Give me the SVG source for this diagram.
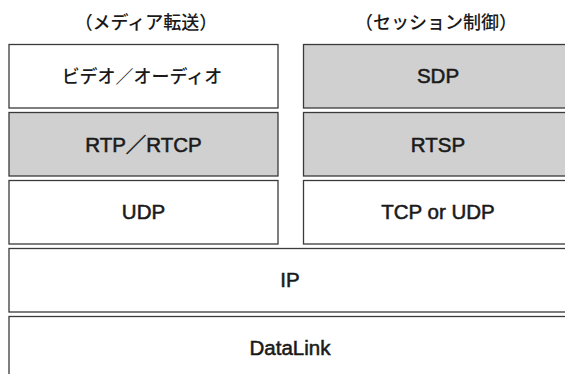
<svg xmlns="http://www.w3.org/2000/svg" width="565" height="374" viewBox="0 0 565 374">
  <style>
    .box { fill: #ffffff; stroke: #3a3a3a; stroke-width: 1.3; }
    .shade { fill: #d0d0d0; }
    .lbl { font-family: "Liberation Sans", "Noto Sans CJK JP", sans-serif; font-size: 20.5px; fill: #1a1a1a; stroke: #1a1a1a; stroke-width: 0.55; text-anchor: middle; }
    .jp { font-family: "Noto Sans CJK JP", "Liberation Sans", sans-serif; font-size: 18px; font-weight: 500; fill: #1a1a1a; text-anchor: middle; }
  </style>
  <rect width="565" height="374" fill="#ffffff"/>

  <!-- column headings -->
  <g id="heading-media">
    <text class="jp" x="146" y="28.5">（メディア転送）</text>
  </g>
  <g id="heading-session">
    <text class="jp" x="436" y="28.5">（セッション制御）</text>
  </g>

  <!-- media transport stack -->
  <g id="video-audio">
    <rect class="box" x="9" y="44.5" width="269" height="63.5"/>
    <text class="jp" x="142" y="82.5">ビデオ／オーディオ</text>
  </g>
  <g id="rtp-rtcp">
    <rect class="box shade" x="9" y="112.5" width="269" height="63.5"/>
    <text class="lbl" x="143.5" y="151.5">RTP／RTCP</text>
  </g>
  <g id="udp">
    <rect class="box" x="9" y="180.5" width="269" height="63.5"/>
    <text class="lbl" x="143.5" y="219">UDP</text>
  </g>

  <!-- session control stack -->
  <g id="sdp">
    <rect class="box shade" x="303.5" y="44.5" width="270" height="63.5"/>
    <text class="lbl" x="438" y="83">SDP</text>
  </g>
  <g id="rtsp">
    <rect class="box shade" x="303.5" y="112.5" width="270" height="63.5"/>
    <text class="lbl" x="438" y="151.5">RTSP</text>
  </g>
  <g id="tcp-udp">
    <rect class="box" x="303.5" y="180.5" width="270" height="63.5"/>
    <text class="lbl" x="438" y="219">TCP or UDP</text>
  </g>

  <!-- shared layers -->
  <g id="ip">
    <rect class="box" x="9" y="248.5" width="564" height="63.5"/>
    <text class="lbl" x="290" y="287">IP</text>
  </g>
  <g id="datalink">
    <rect class="box" x="9" y="316.5" width="564" height="63.5"/>
    <text class="lbl" x="290" y="355">DataLink</text>
  </g>

  <g id="connectors"></g>
</svg>
